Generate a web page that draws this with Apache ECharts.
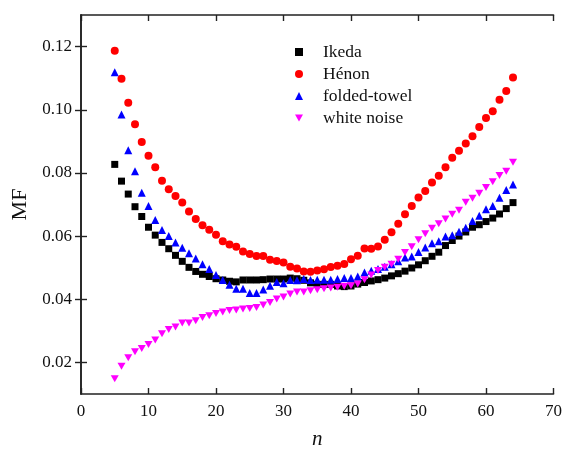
<!DOCTYPE html>
<html>
<head>
<meta charset="utf-8">
<script src="https://cdn.jsdelivr.net/npm/echarts@6/dist/echarts.min.js"></script>
<style>
  html, body { margin: 0; padding: 0; background: #fff; }
  #chart { width: 565px; height: 455px; }
</style>
</head>
<body>
<div id="chart"></div>
<script>
// Window length n
var nValues = [5, 6, 7, 8, 9, 10, 11, 12, 13, 14, 15, 16, 17, 18, 19, 20, 21, 22, 23, 24,
  25, 26, 27, 28, 29, 30, 31, 32, 33, 34, 35, 36, 37, 38, 39, 40, 41, 42, 43, 44,
  45, 46, 47, 48, 49, 50, 51, 52, 53, 54, 55, 56, 57, 58, 59, 60, 61, 62, 63, 64];

// MF values for each signal
var ikeda = [0.0827, 0.0774, 0.0733, 0.0693, 0.0662, 0.0628, 0.0603, 0.0580, 0.0560, 0.0539,
  0.0520, 0.0501, 0.0488, 0.0479, 0.0472, 0.0465, 0.0461, 0.0457, 0.0455, 0.0461,
  0.0461, 0.0461, 0.0462, 0.0464, 0.0464, 0.0464, 0.0467, 0.0465, 0.0460, 0.0452,
  0.0447, 0.0447, 0.0447, 0.0442, 0.0440, 0.0442, 0.0448, 0.0453, 0.0458, 0.0462,
  0.0467, 0.0474, 0.0481, 0.0489, 0.0499, 0.0509, 0.0522, 0.0536, 0.0549, 0.0570,
  0.0586, 0.0600, 0.0613, 0.0628, 0.0636, 0.0646, 0.0657, 0.0670, 0.0687, 0.0706];

var henon = [0.1187, 0.1098, 0.1022, 0.0954, 0.0898, 0.0854, 0.0818, 0.0775, 0.0748, 0.0727,
  0.0706, 0.0678, 0.0654, 0.0634, 0.0620, 0.0604, 0.0584, 0.0573, 0.0566, 0.0551,
  0.0543, 0.0537, 0.0537, 0.0525, 0.0521, 0.0516, 0.0503, 0.0497, 0.0488, 0.0487,
  0.0491, 0.0495, 0.0502, 0.0506, 0.0512, 0.0527, 0.0538, 0.0561, 0.0560, 0.0567,
  0.0588, 0.0612, 0.0639, 0.0669, 0.0695, 0.0722, 0.0743, 0.0770, 0.0791, 0.0818,
  0.0848, 0.0870, 0.0893, 0.0916, 0.0945, 0.0974, 0.0995, 0.1032, 0.1059, 0.1102];

var foldedTowel = [0.1119, 0.0985, 0.0872, 0.0805, 0.0737, 0.0695, 0.0651, 0.0619, 0.0600, 0.0580,
  0.0563, 0.0546, 0.0529, 0.0511, 0.0496, 0.0477, 0.0461, 0.0446, 0.0433, 0.0433,
  0.0420, 0.0420, 0.0431, 0.0443, 0.0455, 0.0451, 0.0461, 0.0460, 0.0464, 0.0461,
  0.0462, 0.0462, 0.0462, 0.0464, 0.0467, 0.0467, 0.0472, 0.0485, 0.0490, 0.0496,
  0.0503, 0.0511, 0.0520, 0.0532, 0.0535, 0.0550, 0.0564, 0.0577, 0.0584, 0.0599,
  0.0603, 0.0614, 0.0626, 0.0648, 0.0664, 0.0685, 0.0695, 0.0721, 0.0746, 0.0763];

var whiteNoise = [0.0148, 0.0188, 0.0215, 0.0234, 0.0244, 0.0257, 0.0271, 0.0291, 0.0304, 0.0312,
  0.0325, 0.0325, 0.0332, 0.0342, 0.0348, 0.0355, 0.0360, 0.0364, 0.0366, 0.0369,
  0.0371, 0.0374, 0.0382, 0.0390, 0.0401, 0.0407, 0.0417, 0.0423, 0.0423, 0.0427,
  0.0430, 0.0433, 0.0436, 0.0438, 0.0441, 0.0443, 0.0448, 0.0462, 0.0477, 0.0491,
  0.0501, 0.0511, 0.0527, 0.0548, 0.0566, 0.0588, 0.0607, 0.0625, 0.0639, 0.0654,
  0.0669, 0.0682, 0.0707, 0.0720, 0.0736, 0.0754, 0.0772, 0.0792, 0.0805, 0.0834];

// Axis tick values
var xTicks = [0, 10, 20, 30, 40, 50, 60, 70];
var yTicks = [0.02, 0.04, 0.06, 0.08, 0.10, 0.12];

var seriesNames = ['Ikeda', 'Hénon', 'folded-towel', 'white noise'];

function pairs(values) {
  return nValues.map(function (n, i) { return [n, values[i]]; });
}

var FONT = '"Liberation Serif", "DejaVu Serif", serif';
var AXIS_COLOR = '#222';
var downTriangle = 'path://M0,0 L10,0 L5,9 Z';

var frameLine = { show: true, lineStyle: { color: AXIS_COLOR, width: 1.6 } };
var innerTick = { show: true, inside: true, length: 6, lineStyle: { color: AXIS_COLOR, width: 1.4 } };

var chart = echarts.init(document.getElementById('chart'), null, { renderer: 'canvas' });

chart.setOption({
  animation: false,
  backgroundColor: '#fff',
  grid: { left: 81, right: 10, top: 15, bottom: 58, containLabel: false },
  legend: {
    orient: 'vertical',
    left: 290,
    top: 38,
    itemWidth: 8,
    itemHeight: 8,
    itemGap: 4,
    textStyle: { fontFamily: FONT, fontSize: 17.5, color: '#111', padding: [0, 0, 0, 15] },
    data: seriesNames
  },
  xAxis: [
    {
      type: 'value', min: 0, max: 70, interval: 10,
      axisLine: frameLine,
      axisTick: Object.assign({}, innerTick, { customValues: xTicks }),
      axisLabel: { fontFamily: FONT, fontSize: 17, color: '#111', margin: 9, customValues: xTicks },
      splitLine: { show: false },
      name: 'n', nameLocation: 'middle', nameGap: 35,
      nameTextStyle: { fontFamily: FONT, fontSize: 21, fontStyle: 'italic', color: '#111' }
    },
    {
      type: 'value', position: 'top', min: 0, max: 70, interval: 10,
      axisLine: frameLine,
      axisTick: Object.assign({}, innerTick, { customValues: xTicks }),
      axisLabel: { show: false },
      splitLine: { show: false }
    }
  ],
  yAxis: [
    {
      type: 'value', min: 0.01, max: 0.13,
      axisLine: frameLine,
      axisTick: Object.assign({}, innerTick, { customValues: yTicks }),
      axisLabel: {
        fontFamily: FONT, fontSize: 17, color: '#111', margin: 9,
        customValues: yTicks,
        formatter: function (v) { return v.toFixed(2); }
      },
      splitLine: { show: false },
      name: 'MF', nameLocation: 'middle', nameGap: 46, nameRotate: 90,
      nameTextStyle: { fontFamily: FONT, fontSize: 22, color: '#111' }
    },
    {
      type: 'value', position: 'right', min: 0.01, max: 0.13,
      axisLine: frameLine,
      axisTick: Object.assign({}, innerTick, { customValues: yTicks }),
      axisLabel: { show: false },
      splitLine: { show: false }
    }
  ],
  series: [
    {
      name: seriesNames[0], type: 'scatter', symbol: 'rect', symbolSize: 7,
      itemStyle: { color: '#000000', opacity: 1 }, data: pairs(ikeda)
    },
    {
      name: seriesNames[1], type: 'scatter', symbol: 'circle', symbolSize: 8,
      itemStyle: { color: '#ff0000', opacity: 1 }, data: pairs(henon)
    },
    {
      name: seriesNames[2], type: 'scatter', symbol: 'triangle', symbolSize: 8,
      itemStyle: { color: '#0000ff', opacity: 1 }, data: pairs(foldedTowel)
    },
    {
      name: seriesNames[3], type: 'scatter', symbol: downTriangle, symbolSize: [8, 7],
      itemStyle: { color: '#ff00ff', opacity: 1 }, data: pairs(whiteNoise)
    }
  ]
});
</script>
</body>
</html>
